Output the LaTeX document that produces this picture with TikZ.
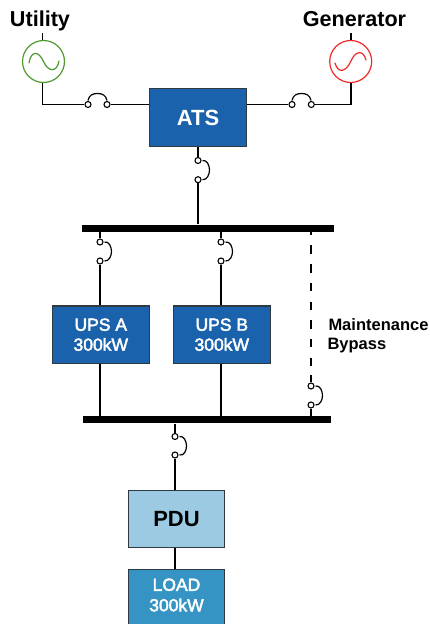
\documentclass[tikz,border=0pt]{standalone}
\usepackage{fontspec}
\setmainfont{Liberation Sans}
\newfontfamily\medfont[FakeBold=2.5]{Liberation Sans}
\definecolor{atsblue}{HTML}{1A62AB}
\definecolor{pdublue}{HTML}{9DCAE3}
\definecolor{loadblue}{HTML}{3594C4}
\definecolor{utilgreen}{HTML}{4E9A2E}
\definecolor{genred}{HTML}{F02828}
\definecolor{edgegrey}{HTML}{303840}
\tikzset{
  x=1pt,y=-1pt,
  wire/.style={draw=black,line width=1.2pt},
  term/.style={circle,draw=black,fill=white,line width=1.1pt,minimum size=6pt,inner sep=0pt},
  blade/.style={draw=black,line width=1.2pt},
  bus/.style={fill=black,draw=none,inner sep=0pt,minimum height=7pt},
  darkbox/.style={draw=edgegrey,line width=1.2pt,fill=atsblue,text=white,font=\bfseries,inner sep=0pt,minimum width=96.6pt,align=center},
  src/.style={circle,line width=1.2pt,minimum size=42pt,inner sep=0pt,fill=white},
  head/.style={font=\bfseries\fontsize{21.6}{24}\selectfont,inner sep=0pt,anchor=base},
  note/.style={font=\bfseries\fontsize{16.5}{18}\selectfont,inner sep=0pt,anchor=base west},
}
\begin{document}
\begin{tikzpicture}
\useasboundingbox (0,0) rectangle (430,624);
% heads
\node[head] (util) at (40,26.7) {Utility};
\node[head] (gen) at (354.5,26.2) {Generator};
% sources
\node[src,draw=utilgreen] (us) at (43.5,61.5) {};
\node[src,draw=genred] (gs) at (350.7,61.5) {};
\coordinate (ut) at (42.5,33);
\coordinate (gt) at (351,33);
\draw[wire] (ut) -- (us.north -| ut);
\draw[wire] (gt) -- (gs.north -| gt);
\draw[draw=utilgreen,line width=1.2pt,line cap=round] (29,63) .. controls (31,50) and (39,51) .. (43.5,61.5) .. controls (48,72) and (57,73) .. (59,61);
\draw[draw=genred,line width=1.2pt,line cap=round] (335,63) .. controls (338,74) and (346,72) .. (350.7,61.5) .. controls (355,51) and (363,49) .. (366,60);
% boxes
\node[darkbox,minimum height=58pt,font=\bfseries\fontsize{22}{24}\selectfont] (ats) at (198,117.5) {ATS};
\node[darkbox,minimum height=57.6pt,font=\medfont\fontsize{17.5}{20}\selectfont] (upsa) at (100.8,334.7) {UPS A\\300kW};
\node[darkbox,minimum height=57.6pt,font=\medfont\fontsize{17.5}{20}\selectfont] (upsb) at (221.8,334.7) {UPS B\\300kW};
\node[darkbox,fill=pdublue,text=black,minimum height=57.6pt,font=\bfseries\fontsize{22}{24}\selectfont] (pdu) at (176.5,519) {PDU};
\node[darkbox,fill=loadblue,minimum height=62pt,anchor=north] (load) at (176.5,568.5) {};
\node[text=white,inner sep=0pt,align=center,font=\medfont\fontsize{17.5}{20.5}\selectfont] (loadt) at (176.5,595) {LOAD\\300kW};
% buses
\node[bus,minimum width=252pt] (bus1) at (208,228) {};
\node[bus,minimum width=248pt] (bus2) at (207,419.8) {};
% horizontal switches
\node[term] (u1) at (88,104.5) {};
\node[term] (u2) at (107,104.5) {};
\node[term] (g1) at (292,104.5) {};
\node[term] (g2) at (311.3,104.5) {};
\draw[wire] (us.south -| ut) -- (ut |- u1) -- (u1);
\draw[wire] (u2) -- (ats.west |- u2);
\draw[wire] (ats.east |- g1) -- (g1);
\draw[wire] (g2) -- (gt |- g2) -- (gs.south -| gt);
\draw[blade] (88,100.5) .. controls (89,95) and (93,93.5) .. (97.5,93.5) .. controls (102,93.5) and (106,95) .. (107,100.5);
\draw[blade] (292,100.5) .. controls (293,95) and (297,93.5) .. (301.5,93.5) .. controls (306,93.5) and (310,95) .. (311,100.5);
% vertical switches
\node[term] (a1) at (198,160.5) {};
\node[term] (a2) at (198,179.7) {};
\node[term] (b1) at (100,242) {};
\node[term] (b2) at (100,261) {};
\node[term] (c1) at (221,242) {};
\node[term] (c2) at (221,261) {};
\node[term] (d1) at (311,386) {};
\node[term] (d2) at (311,405) {};
\node[term] (e1) at (175,436.5) {};
\node[term] (e2) at (175,455) {};
\foreach \t/\b in {a1/a2,b1/b2,c1/c2,d1/d2,e1/e2}{
  \draw[blade] ([xshift=4.5pt]\t.center) .. controls ([xshift=9pt,yshift=1pt]\t.center) and ([xshift=11.5pt,yshift=-5pt]\t.center) .. ([xshift=11.5pt,yshift=-9.5pt]\t.center) .. controls ([xshift=11.5pt,yshift=-14pt]\t.center) and ([xshift=9pt,yshift=-19.5pt]\t.center) .. ([xshift=4.5pt]\b.center);
}
% wires
\draw[wire] (a1 |- ats.south) -- (a1);
\draw[wire] (a2) -- (a2 |- bus1.north);
\draw[wire] (b1 |- bus1.south) -- (b1);
\draw[wire] (b2) -- (b2 |- upsa.north);
\draw[wire] (c1 |- bus1.south) -- (c1);
\draw[wire] (c2) -- (c2 |- upsb.north);
\draw[wire] (b2 |- upsa.south) -- (b2 |- bus2.north);
\draw[wire] (c2 |- upsb.south) -- (c2 |- bus2.north);
\coordinate (dsh) at (311,375);
\draw[wire,dash pattern=on 8.5pt off 10.2pt,dash phase=5pt] (d1 |- bus1.south) -- (dsh);
\draw[wire] (dsh) -- (d1);
\draw[wire] (d2) -- (d2 |- bus2.north);
\draw[wire] (e1 |- bus2.south) -- (e1);
\draw[wire] (e2) -- (e2 |- pdu.north);
\draw[wire] (pdu.south -| e2) -- (load.north -| e2);
% note
\node[note] (mt) at (328.3,330) {Maintenance};
\node[note] (by) at (327.3,349.3) {Bypass};
\end{tikzpicture}
\end{document}
